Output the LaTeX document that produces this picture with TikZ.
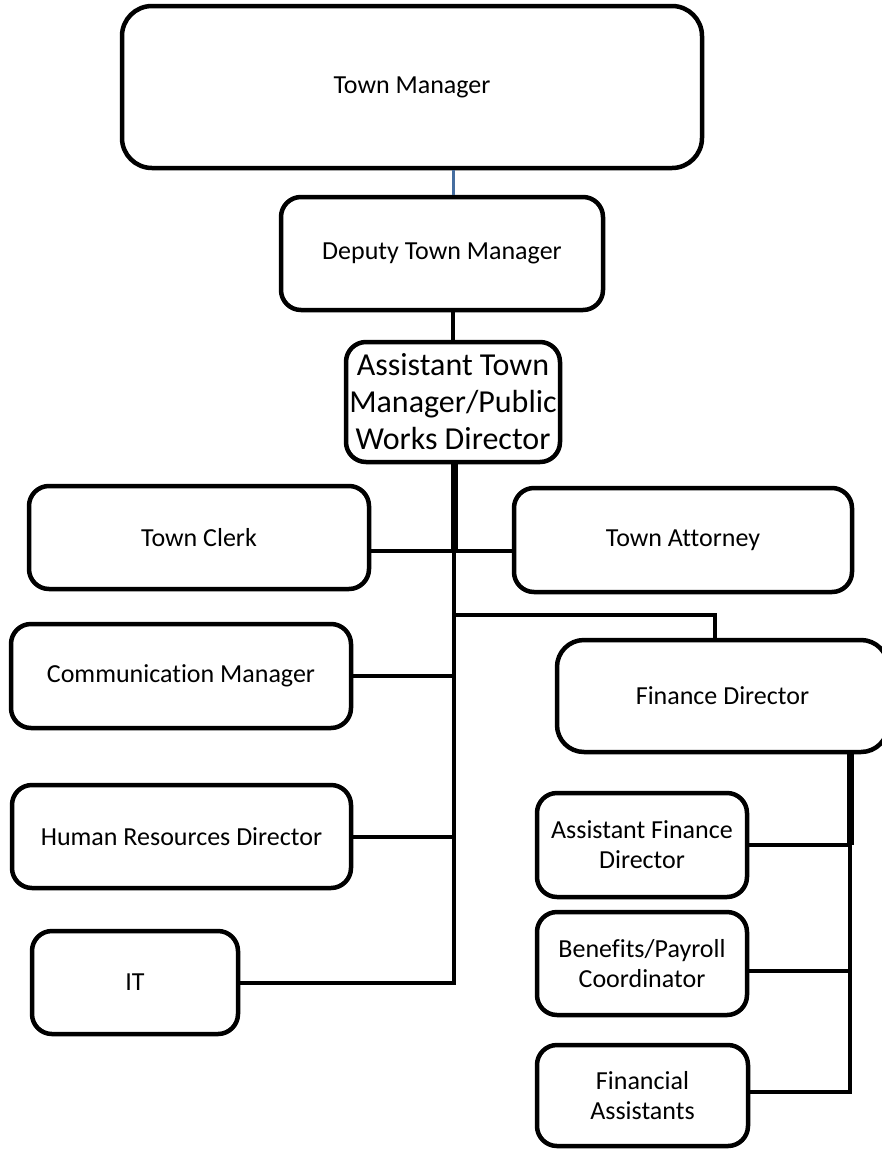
\documentclass[tikz,border=0pt]{standalone}
\usepackage{fontspec}
\setmainfont{Carlito}[Ligatures=NoCommon]
\begin{document}
\begin{tikzpicture}[x=1pt,y=-1pt,
  box/.style={draw=black,line width=4.5pt,rounded corners=20pt,fill=white,
    inner sep=2pt,align=center,font=\fontsize{26}{30}\selectfont},
  bigbox/.style={box,rounded corners=30pt},
  conn/.style={draw=black,line width=4pt},
  trunk/.style={draw=black,line width=7pt},
  topline/.style={draw={rgb,255:red,70;green,110;blue,160},line width=3pt}]
  % page frame
  \fill[white] (0,0) rectangle (882,1149);
  \clip (0,0) rectangle (882,1149);

  % junction points of the trunks
  \coordinate (tk1) at (454,551);
  \coordinate (f1) at (454,615);
  \coordinate (fdrop) at (715,615);
  \coordinate (r1) at (850,845);

  % boxes
  \node[bigbox,minimum width=580pt,minimum height=162pt] (tm) at (412,87) {Town Manager};
  \node[box,minimum width=322pt,minimum height=113pt] (dep) at (442,253.5) {Deputy Town Manager};
  \node[box,minimum width=214pt,minimum height=120pt,
        font=\fontsize{32}{37}\selectfont] (asst) at (453,402)
        {Assistant Town\\Manager/Public\\Works Director};
  \node[box,minimum width=340pt,minimum height=103pt] (clerk) at (199,537.5) {Town Clerk};
  \node[box,minimum width=338pt,minimum height=104pt] (att) at (683,540) {Town Attorney};
  \node[box,minimum width=340pt,minimum height=104pt] (comm) at (181,676) {Communication Manager};
  \node[box,rounded corners=27pt,minimum width=331pt,minimum height=112pt] (fin) at (722.5,696) {Finance Director};
  \node[box,minimum width=339pt,minimum height=103pt] (hr) at (181.5,836.5) {Human Resources Director};
  \node[box,minimum width=206pt,minimum height=103pt] (it) at (135,982.5) {IT};
  \node[box,minimum width=210pt,minimum height=104pt] (af) at (642,845) {Assistant Finance\\Director};
  \node[box,minimum width=210pt,minimum height=103pt] (bp) at (642,963.5) {Benefits/Payroll\\Coordinator};
  \node[box,minimum width=211pt,minimum height=101pt] (fa) at (642.5,1095.5) {Financial\\Assistants};

  % upper chain
  \draw[topline] (asst.north |- tm.south) -- (asst.north |- dep.north);
  \draw[conn] (asst.north |- dep.south) -- (asst.north);

  % main trunk below the assistant town manager
  \draw[trunk] (tk1 |- asst.south) -- (tk1);
  \draw[conn] (clerk.east |- tk1) -- (att.west |- tk1);
  \draw[conn] (it.east) -| (tk1);
  \draw[conn] (comm.east) -- (comm.east -| tk1);
  \draw[conn] (hr.east) -- (hr.east -| tk1);
  \draw[conn] (f1) -- (fdrop) -- (fdrop |- fin.north);

  % finance trunk
  \draw[trunk] (r1 |- fin.south) -- (r1);
  \draw[conn] (af.east) -- (af.east -| r1);
  \draw[conn] ([yshift=-7.5pt]bp.east) -- ([yshift=-7.5pt]bp.east -| r1);
  \draw[conn] ([yshift=3.5pt]fa.east) -| (r1);
\end{tikzpicture}
\end{document}
